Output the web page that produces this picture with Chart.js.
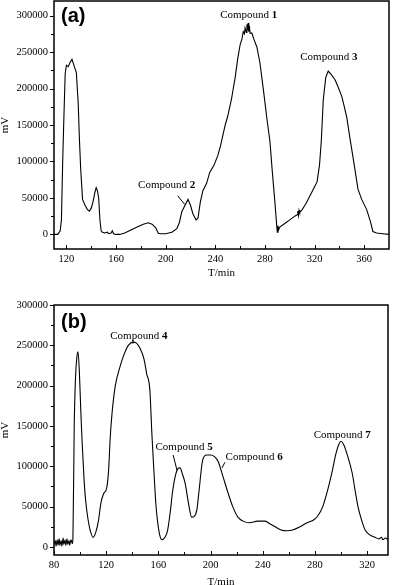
<!DOCTYPE html>
<html>
<head>
<meta charset="utf-8">
<script src="https://cdn.jsdelivr.net/npm/chart.js@4/dist/chart.umd.min.js"></script>
<style>
  html, body { margin: 0; padding: 0; background: #fff; overflow: hidden; }
  canvas { position: absolute; left: 0; }
  #chartA { top: 0; }
  #chartB { top: 290px; }
</style>
</head>
<body>
<canvas id="chartA" width="395" height="290"></canvas>
<canvas id="chartB" width="395" height="300"></canvas>
<script>
// panel (a)
var timeA = [110, 113, 115, 116, 117, 117.8, 119, 120, 121.5, 123, 124.5, 126, 128, 129.5, 130.5, 131.5, 133, 135, 137, 138.5,
    140, 141.5, 143, 144, 145, 146, 147, 148, 149, 151, 153, 154, 156, 157, 158, 160, 163, 167, 172, 177,
    182, 186, 189, 192, 194, 196, 200, 205, 209, 211, 213, 215, 218, 220, 222, 224.5, 226, 228, 230, 233,
    235.5, 239, 242, 244, 246, 248, 250, 253, 256, 258, 260, 261.5, 262.5, 263.5, 264, 265, 265.5, 266, 266.5, 267,
    267.5, 268, 269.5, 271, 273.5, 276, 277.5, 279, 281.5, 284, 286, 288, 289.5, 290, 290.5, 291, 292, 296, 300, 304,
    306, 306.5, 307, 307.5, 308, 310, 313, 316, 319, 322, 324, 325.5, 327, 329, 331, 333, 336.5, 339, 342, 344,
    346, 348.7, 352, 355, 358, 362, 365, 367, 370, 375, 380];
var signalA = [0, 0, 5000, 20000, 100000, 150000, 220000, 232000, 230000, 236000, 240000, 232000, 222000, 180000, 130000, 90000, 48000, 40000, 34000, 32000,
    36000, 45000, 58000, 64000, 60000, 50000, 20000, 5000, 3000, 2000, 3000, 1000, 2000, 5000, 1000, 0, 0, 2000, 6000, 10000,
    14000, 16000, 14000, 9000, 1500, 1000, 1000, 3000, 8000, 16000, 31000, 38000, 48000, 40000, 28000, 20000, 22000, 45000, 60000, 70000,
    85000, 95000, 108000, 120000, 135000, 150000, 162000, 185000, 215000, 240000, 260000, 268000, 278000, 275000, 283000, 277000, 288000, 280000, 290000, 278000,
    286000, 276000, 276000, 268000, 257000, 235000, 215000, 195000, 160000, 128000, 85000, 45000, 12000, 3000, 12000, 6000, 10000, 15000, 20000, 25000,
    27000, 32000, 26000, 33000, 30000, 34000, 42000, 52000, 62000, 72000, 95000, 130000, 184000, 215000, 224000, 220000, 212000, 202000, 189000, 175000,
    160000, 130000, 95000, 62000, 48000, 34000, 18000, 4000, 2000, 1000, 0];

// panel (b)
var timeB = [80, 81, 81.5, 82.5, 83, 84, 84.5, 85.5, 86, 87, 87.5, 88.5, 89, 90, 90.5, 91.5, 92, 93, 94, 94.5,
    95.5, 96.5, 97.5, 98.4, 99.5, 100.5, 101.5, 103, 104, 106, 108, 110, 112, 114, 116, 118, 120.5, 122, 123, 124.5,
    127, 130.5, 134, 137, 140.5, 143, 146, 149, 151, 153.5, 155, 156, 158, 159, 161, 162.8, 165, 167, 169, 171,
    173, 175, 176.6, 178.5, 180.5, 183, 185.5, 187.5, 189.5, 191, 194, 197, 200, 203, 205.8, 209, 213.4, 217, 221, 225,
    230, 236, 241.8, 246, 249.5, 254, 258.7, 263, 268.6, 274, 278.6, 282, 286, 290, 293, 296, 298.5, 300, 302, 305,
    308.5, 311, 313, 316, 318.5, 322, 326, 329, 331, 332, 334, 336];
var signalB = [3000, 8000, 1000, 9000, 2000, 10000, 2000, 8000, 1000, 11000, 3000, 9000, 2000, 10000, 3000, 8000, 2000, 9000, 4000, 10000,
    150000, 210000, 235000, 242000, 215000, 170000, 132000, 85000, 62000, 35000, 19000, 12000, 18000, 32000, 55000, 66000, 74000, 99000, 133000, 166000,
    200000, 223000, 240000, 250000, 254000, 253000, 246000, 233000, 215000, 194000, 141000, 111000, 55000, 37000, 15000, 9000, 12000, 20000, 42000, 70000,
    88000, 97000, 98000, 90000, 79000, 55000, 37000, 38000, 46000, 67000, 108000, 114000, 114000, 112000, 106000, 90000, 67000, 50000, 37000, 32000,
    30000, 32000, 32000, 28000, 25000, 21000, 20000, 21000, 25000, 30000, 33000, 38000, 50000, 72000, 92000, 115000, 128000, 131000, 127000, 113000,
    92000, 68000, 50000, 32000, 21000, 15000, 12000, 10000, 12000, 9000, 11000, 9000];

var tickXA = [120, 140, 160, 180, 200, 220, 240, 260, 280, 300, 320, 340, 360];
var tickXB = [80, 100, 120, 140, 160, 180, 200, 220, 240, 260, 280, 300, 320];
var tickY = [0, 25000, 50000, 75000, 100000, 125000, 150000, 175000, 200000, 225000, 250000, 275000, 300000];

var serif = 'Liberation Serif';

// frame, short ticks, panel tag and compound notes
var frameTicks = {
    id: 'frameTicks',
    afterDatasetsDraw: function (chart, args, opts) {
        var ctx = chart.ctx, a = chart.chartArea, x = chart.scales.x, y = chart.scales.y;
        ctx.save();
        ctx.strokeStyle = '#000';
        ctx.lineWidth = 1;
        x.ticks.forEach(function (t) {
            var px = Math.round(x.getPixelForValue(t.value)) + 0.5;
            var len = t.value % 40 === 0 ? 4 : 3;
            ctx.beginPath(); ctx.moveTo(px, a.bottom); ctx.lineTo(px, a.bottom - len); ctx.stroke();
        });
        y.ticks.forEach(function (t) {
            var py = Math.round(y.getPixelForValue(t.value)) + 0.5;
            var len = t.value % 50000 === 0 ? 4 : 3;
            ctx.beginPath(); ctx.moveTo(a.left, py); ctx.lineTo(a.left - len, py); ctx.stroke();
        });
        ctx.lineWidth = 1.5;
        ctx.strokeRect(a.left, a.top, a.right - a.left, a.bottom - a.top);

        ctx.fillStyle = '#000';
        ctx.textBaseline = 'middle';
        ctx.textAlign = 'left';
        ctx.font = 'bold 20px "Liberation Sans"';
        ctx.fillText(opts.tag, a.left + 7, a.top + opts.tagDy);

        ctx.lineWidth = 1;
        opts.notes.forEach(function (n) {
            ctx.font = '11px "' + serif + '"';
            var w1 = ctx.measureText('Compound ').width;
            ctx.font = 'bold 11px "' + serif + '"';
            var w2 = ctx.measureText(n.num).width;
            var cx = x.getPixelForValue(n.t), cy = y.getPixelForValue(n.v);
            var left = cx - (w1 + w2) / 2;
            ctx.font = '11px "' + serif + '"';
            ctx.fillText('Compound ', left, cy);
            ctx.font = 'bold 11px "' + serif + '"';
            ctx.fillText(n.num, left + w1, cy);
            if (n.lead) {
                ctx.beginPath();
                ctx.moveTo(x.getPixelForValue(n.lead[0]), y.getPixelForValue(n.lead[1]));
                ctx.lineTo(x.getPixelForValue(n.lead[2]), y.getPixelForValue(n.lead[3]));
                ctx.stroke();
            }
        });
        ctx.restore();
    }
};

function makeChart(id, times, values, xTicks, xMin, xMax, yMin, yMax, pad, xHeight, titlePad, smooth, tag, tagDy, notes) {
    var ctx = document.getElementById(id).getContext('2d');
    return new Chart(ctx, {
        type: 'line',
        data: {
            datasets: [{
                data: times.map(function (t, i) { return { x: t, y: values[i] }; }),
                borderColor: '#000',
                borderWidth: 1.1,
                pointRadius: 0,
                fill: false,
                cubicInterpolationMode: smooth ? 'monotone' : 'default',
                tension: 0
            }]
        },
        options: {
            responsive: false,
            animation: false,
            layout: { padding: pad },
            plugins: {
                legend: { display: false },
                tooltip: { enabled: false },
                frameTicks: { tag: tag, tagDy: tagDy, notes: notes }
            },
            scales: {
                x: {
                    type: 'linear',
                    min: xMin,
                    max: xMax,
                    afterBuildTicks: function (s) { s.ticks = xTicks.map(function (v) { return { value: v }; }); },
                    afterFit: function (s) { s.height = xHeight; s.paddingLeft = 0; s.paddingRight = 0; },
                    grid: { display: false, drawTicks: false },
                    border: { display: false },
                    ticks: {
                        padding: 4,
                        maxRotation: 0,
                        autoSkip: false,
                        color: '#000',
                        font: { family: serif, size: 10.5 },
                        callback: function (v) { return v % 40 === 0 ? String(v) : ''; }
                    },
                    title: {
                        display: true,
                        text: 'T/min',
                        color: '#000',
                        font: { family: serif, size: 11, lineHeight: 1.2 },
                        padding: { top: 0, bottom: titlePad }
                    }
                },
                y: {
                    min: yMin,
                    max: yMax,
                    afterBuildTicks: function (s) { s.ticks = tickY.map(function (v) { return { value: v }; }); },
                    afterFit: function (s) { s.width = 54; s.paddingTop = 0; s.paddingBottom = 0; },
                    grid: { display: false, drawTicks: false },
                    border: { display: false },
                    ticks: {
                        padding: 6,
                        autoSkip: false,
                        color: '#000',
                        font: { family: serif, size: 10.5 },
                        callback: function (v) { return v % 50000 === 0 ? String(v) : ''; }
                    },
                    title: {
                        display: true,
                        text: 'mV',
                        color: '#000',
                        font: { family: serif, size: 11, lineHeight: 1 },
                        padding: 0
                    }
                }
            }
        },
        plugins: [frameTicks]
    });
}

makeChart('chartA', timeA, signalA, tickXA, 110, 380, -20000, 320000,
    { top: 1, right: 6, left: 0, bottom: 0 }, 41, 10, false, '(a)', 15,
    [
        { num: '1', t: 267, v: 300000 },
        { num: '3', t: 331.5, v: 243000 },
        { num: '2', t: 200.8, v: 68000, lead: [209.7, 53000, 215.4, 41000] }
    ]);

makeChart('chartB', timeB, signalB, tickXB, 80, 336, -10000, 300000,
    { top: 15, right: 7, left: 0, bottom: 0 }, 35, 1, true, '(b)', 17,
    [
        { num: '4', t: 145, v: 261000, lead: [140.5, 257000, 140.5, 252000] },
        { num: '5', t: 179.7, v: 124000, lead: [171.3, 114000, 174.3, 95000] },
        { num: '6', t: 233.4, v: 111000, lead: [211, 105000, 208.8, 98000] },
        { num: '7', t: 300.9, v: 139000 }
    ]);
</script>
</body>
</html>
